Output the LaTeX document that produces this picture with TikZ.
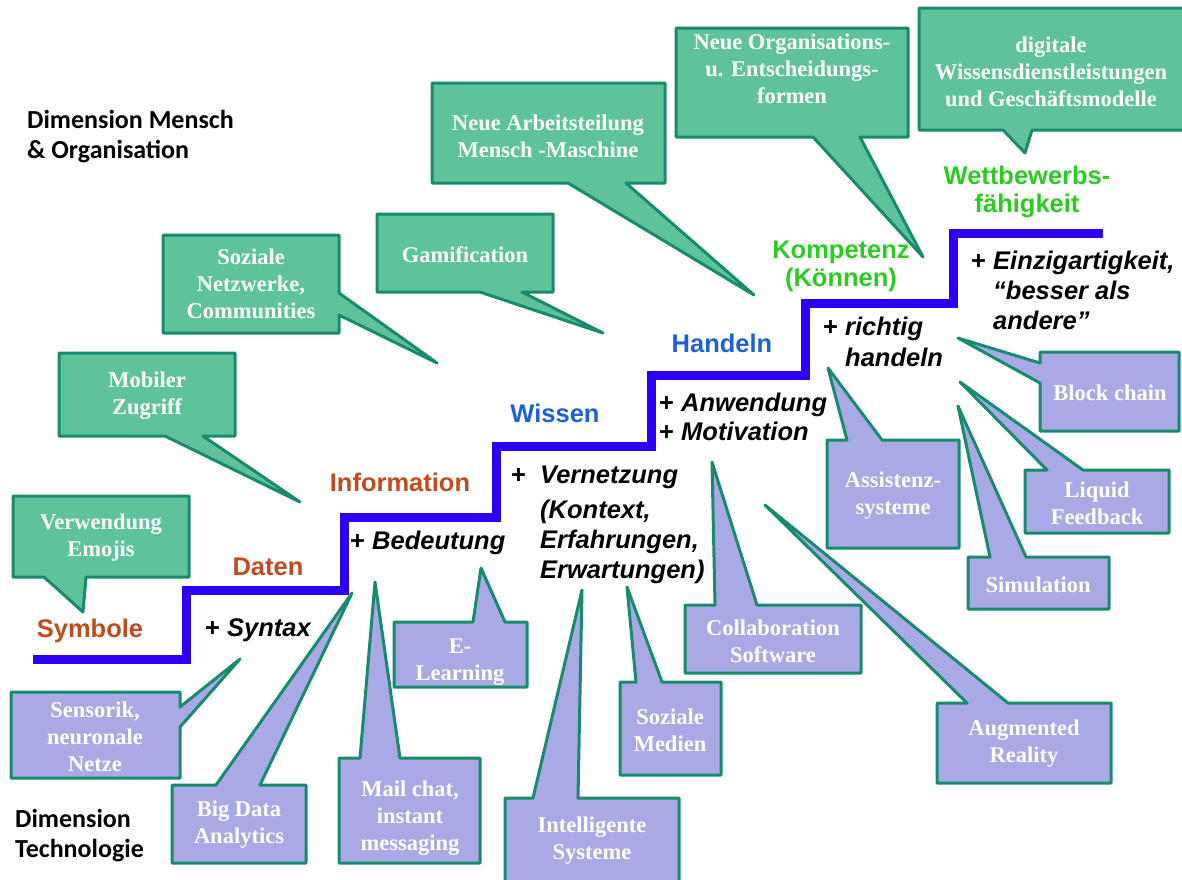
\documentclass[tikz,border=0pt]{standalone}
\usepackage{fontspec}
\setmainfont{Liberation Serif}
\setsansfont{Liberation Sans}
\newfontfamily\calfont{Carlito}
\definecolor{gfill}{HTML}{5EC39A}
\definecolor{pfill}{HTML}{A9A9E6}
\definecolor{bline}{HTML}{188A6E}
\definecolor{stepblue}{HTML}{2D00F5}
\definecolor{lblbrown}{HTML}{C24A1E}
\definecolor{lblblue}{HTML}{1D5FDC}
\definecolor{lblgreen}{HTML}{2ACC22}
\begin{document}
\begin{tikzpicture}[x=1pt,y=-1pt,
  gcall/.style={fill=gfill,draw=bline,line width=3pt,line join=round},
  pcall/.style={fill=pfill,draw=bline,line width=3pt,line join=round},
  btext/.style={text=white,font=\bfseries\fontsize{22.5}{27}\selectfont,align=center,inner sep=0pt},
  stair/.style={draw=stepblue,line width=9pt},
  lvl/.style={font=\sffamily\bfseries\fontsize{25.5}{28}\selectfont,inner sep=0pt,align=center},
  itx/.style={font=\sffamily\bfseries\itshape\fontsize{25.5}{30}\selectfont,inner sep=0pt,align=left,anchor=west},
  dimtext/.style={font=\calfont\bfseries\fontsize{26}{30}\selectfont,inner sep=0pt,align=left,anchor=west}]
\useasboundingbox (0,0) rectangle (1182,879);

% staircase
\coordinate (s0) at (33,659);
\coordinate (s13) at (1103,233);
\draw[stair] (s0) -- (186,659) -- (186,590) -- (344,590) -- (344,517) -- (496,517) -- (496,446)
  -- (651,446) -- (651,375) -- (805,375) -- (805,303) -- (953,303) -- (953,233) -- (s13);

% level labels
\node[lvl,text=lblbrown] (symbole) at (90,631) {Symbole};
\node[lvl,text=lblbrown] (daten) at (268,567) {Daten};
\node[lvl,text=lblbrown] (information) at (400,482) {Information};
\node[lvl,text=lblblue] (wissen) at (555,413) {Wissen};
\node[lvl,text=lblblue] (handeln) at (722,343) {Handeln};
\node[lvl,text=lblgreen] (kompetenz) at (841,266) {Kompetenz\\(Können)};
\node[lvl,text=lblgreen] (wettbewerb) at (1027,192) {Wettbewerbs-\\fähigkeit};

% italic additions
\node[itx] (syntax) at (205,630) {{\upshape +} Syntax};
\node[itx] (bedeutung) at (350,543) {{\upshape +} Bedeutung};
\node[itx] (vernetzung) at (511,525) {\makebox[29pt][l]{\upshape +}Vernetzung\\[5pt]\hspace*{29pt}(Kontext,\\\hspace*{29pt}Erfahrungen,\\\hspace*{29pt}Erwartungen)};
\node[itx,font=\sffamily\bfseries\itshape\fontsize{25.5}{29}\selectfont] (anwendung) at (659,417) {{\upshape +} Anwendung\\{\upshape +} Motivation};
\node[itx,font=\sffamily\bfseries\itshape\fontsize{25.5}{31}\selectfont] (richtig) at (823,342) {{\upshape +} richtig\\\hphantom{+ }handeln};
\node[itx] (einzig) at (971,290) {{\upshape +} Einzigartigkeit,\\\hphantom{+ }“besser als\\\hphantom{+ }andere”};

% dimension labels
\node[dimtext] (dimmo) at (27,137) {Dimension Mensch\\\& Organisation};
\node[dimtext] (dimtech) at (15,836) {Dimension\\Technologie};

% green callouts (Mensch & Organisation)
\draw[gcall] (432,83) -- (665,83) -- (665,183) -- (626,183) -- (754,295) -- (568,183) -- (432,183) -- cycle;
\node[btext] (arbeit) at (548,136) {Neue Arbeitsteilung\\Mensch -Maschine};

\draw[gcall] (377,214) -- (553,214) -- (553,292) -- (522,292) -- (603,333) -- (480,292) -- (377,292) -- cycle;
\node[btext] (gamification) at (465,255) {Gamification};

\draw[gcall] (163,235) -- (339,235) -- (339,293) -- (437,363) -- (339,315) -- (339,333) -- (163,333) -- cycle;
\node[btext] (netzwerke) at (251,284) {Soziale\\Netzwerke,\\Communities};

\draw[gcall] (59,353) -- (235,353) -- (235,436) -- (203,436) -- (300,502) -- (165,436) -- (59,436) -- cycle;
\node[btext] (mobil) at (147,396) {Mobiler\\Zugriff};

\draw[gcall] (13,496) -- (189,496) -- (189,577) -- (86,577) -- (83,612) -- (44,577) -- (13,577) -- cycle;
\node[btext] (emojis) at (101,538) {Verwendung\\Emojis};

\draw[gcall] (676,28) -- (908,28) -- (908,137) -- (860,137) -- (923,257) -- (813,137) -- (676,137) -- cycle;
\node[btext] (organisation) at (792,69) {Neue Organisations-\\u. Entscheidungs-\\formen};

\draw[gcall] (919,8) -- (1188,8) -- (1188,130) -- (1032,130) -- (1025,153) -- (1003,130) -- (919,130) -- cycle;
\node[btext] (digital) at (1051,72) {digitale\\Wissensdienstleistungen\\und Geschäftsmodelle};

% purple callouts (Technologie)
\draw[pcall] (11,692) -- (180,692) -- (180,707) -- (240,659) -- (180,727) -- (180,778) -- (11,778) -- cycle;
\node[btext] (sensorik) at (95,737) {Sensorik,\\neuronale\\Netze};

\draw[pcall] (172,785) -- (216,785) -- (352,593) -- (260,785) -- (306,785) -- (306,863) -- (172,863) -- cycle;
\node[btext] (bigdata) at (239,825) {Big Data\\Analytics};

\draw[pcall] (339,758) -- (360,758) -- (375,582) -- (400,758) -- (480,758) -- (480,863) -- (339,863) -- cycle;
\node[btext] (mail) at (410,818) {Mail chat,\\instant\\messaging};

\draw[pcall] (394,622) -- (473,622) -- (481,568) -- (505,622) -- (527,622) -- (527,687) -- (394,687) -- cycle;
\node[btext] (elearning) at (460,662) {E-\\Learning};

\draw[pcall] (505,798) -- (533,798) -- (582,590) -- (578,798) -- (679,798) -- (679,888) -- (505,888) -- cycle;
\node[btext] (intelligent) at (592,841) {Intelligente\\Systeme};

\draw[pcall] (620,682) -- (636,682) -- (627,587) -- (662,682) -- (721,682) -- (721,775) -- (620,775) -- cycle;
\node[btext] (medien) at (670,730) {Soziale\\Medien};

\draw[pcall] (685,605) -- (715,605) -- (712,462) -- (757,605) -- (861,605) -- (861,673) -- (685,673) -- cycle;
\node[btext] (collab) at (773,641) {Collaboration\\Software};

\draw[pcall] (937,703) -- (967,703) -- (765,505) -- (1008,703) -- (1111,703) -- (1111,783) -- (937,783) -- cycle;
\node[btext] (augmented) at (1024,744) {Augmented\\Reality};

\draw[pcall] (827,440) -- (847,440) -- (828,368) -- (882,440) -- (959,440) -- (959,548) -- (827,548) -- cycle;
\node[btext] (assistenz) at (893,496) {Assistenz-\\systeme};

\draw[pcall] (1040,352) -- (1179,352) -- (1179,431) -- (1040,431) -- (1040,383) -- (958,338) -- (1040,363) -- cycle;
\node[btext] (blockchain) at (1110,393) {Block chain};

\draw[pcall] (1025,470) -- (1047,470) -- (960,382) -- (1083,470) -- (1169,470) -- (1169,533) -- (1025,533) -- cycle;
\node[btext] (liquid) at (1097,503) {Liquid\\Feedback};

\draw[pcall] (968,557) -- (990,557) -- (958,406) -- (1026,557) -- (1109,557) -- (1109,609) -- (968,609) -- cycle;
\node[btext] (simulation) at (1038,585) {Simulation};
\end{tikzpicture}
\end{document}
